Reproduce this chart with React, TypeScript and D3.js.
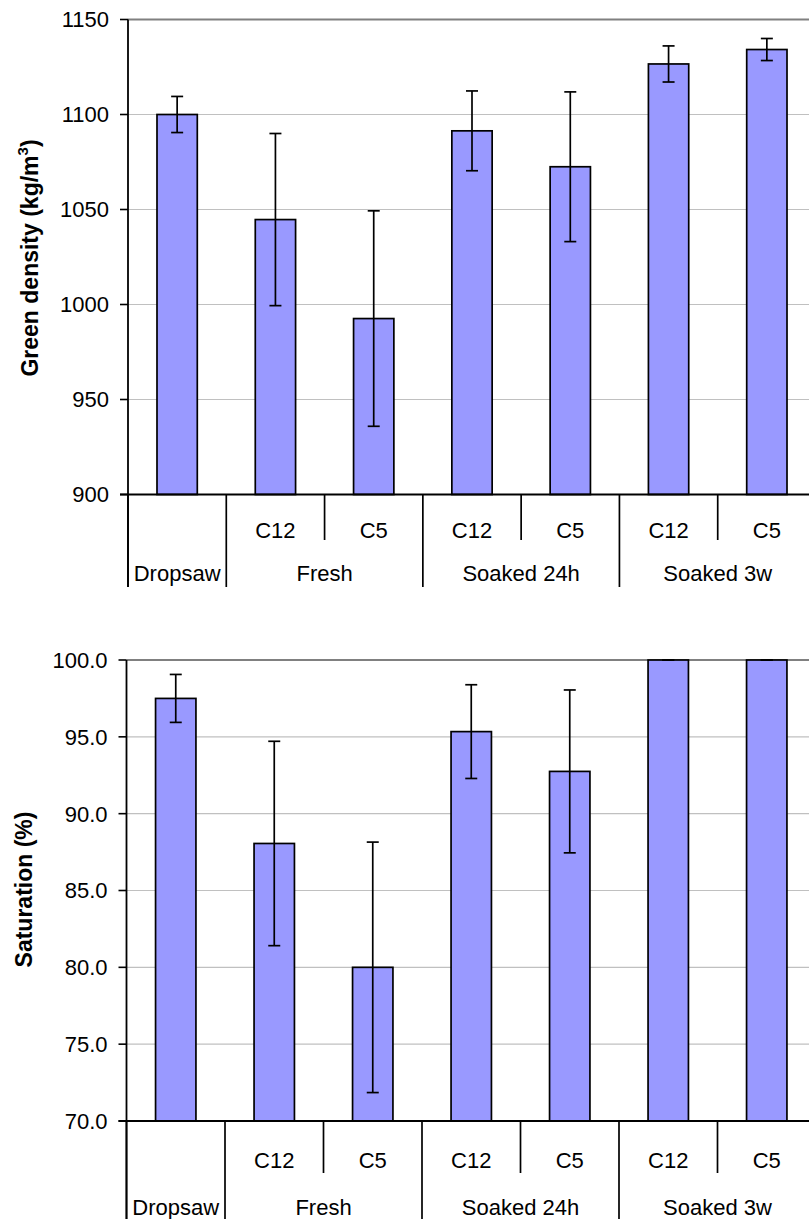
import * as d3 from "d3";

// categories (bottom tier = sub labels, top tier = groups)
const categories = ["Dropsaw", "Fresh C12", "Fresh C5", "Soaked 24h C12", "Soaked 24h C5", "Soaked 3w C12", "Soaked 3w C5"];
const subLabels = ["", "C12", "C5", "C12", "C5", "C12", "C5"];
const groupLabels = ["Dropsaw", "Fresh", "Soaked 24h", "Soaked 3w"];
const groupSpans = [1, 2, 2, 2];

// green density, kg/m3
const densityMean = [1100, 1044.7, 992.6, 1091.4, 1072.5, 1126.6, 1134.2];
const densityErr = [9.5, 45.3, 56.7, 21, 39.4, 9.5, 5.8];
const densityTicks = [900, 950, 1000, 1050, 1100, 1150];

// saturation, %
const saturationMean = [97.5, 88.06, 80.0, 95.34, 92.75, 100, 100];
const saturationErr = [1.56, 6.65, 8.15, 3.05, 5.3, 0, 0];
const saturationTicks = [70, 75, 80, 85, 90, 95, 100];

const FONT = "'Liberation Sans', Arial, sans-serif";

type PanelProps = {
  mean: number[];
  err: number[];
  ticks: number[];
  fmt: (v: number) => string;
  x0: number;
  top: number;
  bottom: number;
  row1: number; // baseline of C12/C5 row
  minorEnd: number;
  row2: number; // baseline of group row
  majorEnd: number;
  title: React.ReactNode;
  titleX: number;
  titleY: number;
};

function Panel(p: PanelProps) {
  const x1 = 816;
  const y = d3.scaleLinear().domain(d3.extent(p.ticks) as [number, number]).range([p.bottom, p.top]);
  const cat = d3.scaleBand<string>().domain(categories).range([p.x0, x1]).padding(0);
  const bar = d3.scaleBand<string>().domain(categories).range([p.x0, x1]).paddingInner(0.59).paddingOuter(0.295);
  const step = cat.step();

  // group boundaries
  const starts = d3.cumsum([0, ...groupSpans]);
  const major = Array.from(starts).map((i) => p.x0 + i * step);
  const minor = [2, 4, 6].map((i) => p.x0 + i * step);

  const yMax = d3.max(p.ticks)!;

  return (
    <g>
      {p.ticks.map((t) => (
        <g key={t}>
          {t !== p.ticks[0] && (
            <line
              x1={p.x0}
              x2={x1}
              y1={y(t)}
              y2={y(t)}
              stroke={t === yMax ? "#808080" : "#c0c0c0"}
              strokeWidth={t === yMax ? 2 : 1.2}
            />
          )}
          <line x1={p.x0 - 8} x2={p.x0} y1={y(t)} y2={y(t)} stroke="#000" strokeWidth={1.6} />
          <text x={p.x0 - 19} y={y(t)} dy="0.36em" textAnchor="end" fontSize={22} fill="#000">
            {p.fmt(t)}
          </text>
        </g>
      ))}

      {categories.map((c, i) => {
        const v = p.mean[i];
        const e = p.err[i];
        const cx = bar(c)! + bar.bandwidth() / 2;
        return (
          <g key={c}>
            <rect
              x={bar(c)}
              y={y(v)}
              width={bar.bandwidth()}
              height={y(y.domain()[0]) - y(v)}
              fill="#9999ff"
              stroke="#000"
              strokeWidth={1.7}
            />
            <line x1={cx} x2={cx} y1={y(v + e)} y2={y(v - e)} stroke="#000" strokeWidth={1.7} />
            <line x1={cx - 6} x2={cx + 6} y1={y(v + e)} y2={y(v + e)} stroke="#000" strokeWidth={1.7} />
            <line x1={cx - 6} x2={cx + 6} y1={y(v - e)} y2={y(v - e)} stroke="#000" strokeWidth={1.7} />
          </g>
        );
      })}

      {/* axes */}
      <line x1={p.x0} x2={p.x0} y1={p.top} y2={p.majorEnd} stroke="#000" strokeWidth={1.8} />
      <line x1={p.x0 - 8} x2={x1} y1={p.bottom} y2={p.bottom} stroke="#000" strokeWidth={1.8} />
      {major.map((mx, i) => (
        <line key={"M" + i} x1={mx} x2={mx} y1={p.bottom} y2={p.majorEnd} stroke="#000" strokeWidth={1.7} />
      ))}
      {minor.map((mx, i) => (
        <line key={"m" + i} x1={mx} x2={mx} y1={p.bottom} y2={p.minorEnd} stroke="#000" strokeWidth={1.7} />
      ))}
      {categories.map((c, i) => (
        <text key={"s" + c} x={cat(c)! + step / 2} y={p.row1} textAnchor="middle" fontSize={22} fill="#000">
          {subLabels[i]}
        </text>
      ))}
      {groupLabels.map((g, i) => (
        <text
          key={g}
          x={p.x0 + ((starts[i] + starts[i + 1]) / 2) * step}
          y={p.row2}
          textAnchor="middle"
          fontSize={22}
          fill="#000"
        >
          {g}
        </text>
      ))}

      <text
        transform={`translate(${p.titleX},${p.titleY}) rotate(-90)`}
        textAnchor="middle"
        fontSize={23}
        fontWeight="bold"
        fill="#000"
      >
        {p.title}
      </text>
    </g>
  );
}

export default function App() {
  return (
    <svg
      width={809}
      height={1219}
      style={{ position: "absolute", left: 0, top: 0, background: "#fff", fontFamily: FONT }}
    >
      <rect width={809} height={1219} fill="#fff" />
      <Panel
        mean={densityMean}
        err={densityErr}
        ticks={densityTicks}
        fmt={(v) => String(v)}
        x0={128}
        top={19.5}
        bottom={494.5}
        row1={538}
        minorEnd={540}
        row2={581}
        majorEnd={587}
        title={
          <>
            Green density (kg/m
            <tspan fontSize={15} dy={-10}>
              3
            </tspan>
            <tspan dy={10}>)</tspan>
          </>
        }
        titleX={38}
        titleY={258}
      />
      <Panel
        mean={saturationMean}
        err={saturationErr}
        ticks={saturationTicks}
        fmt={(v) => v.toFixed(1)}
        x0={126.5}
        top={660}
        bottom={1121}
        row1={1168}
        minorEnd={1173}
        row2={1215}
        majorEnd={1230}
        title="Saturation (%)"
        titleX={31.5}
        titleY={889.5}
      />
    </svg>
  );
}
